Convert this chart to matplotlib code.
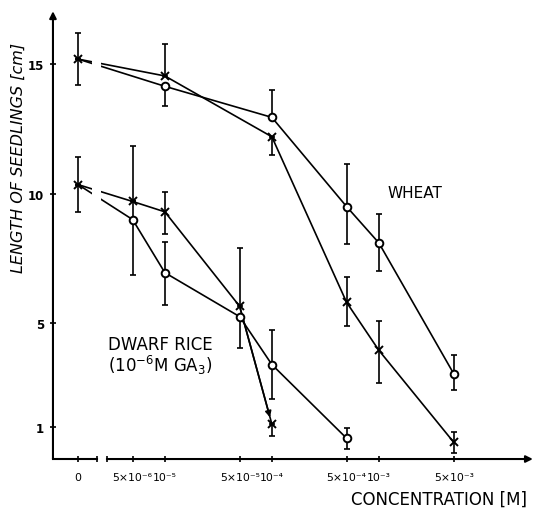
import matplotlib
matplotlib.use("Agg")
import matplotlib.pyplot as plt
import matplotlib.transforms as mtransforms
from matplotlib.ticker import FixedLocator, NullFormatter

# control (no GA inhibitor) is drawn at a stand-in position on the log axis
CTRL_X = 1.55e-6
BREAK_LO, BREAK_HI = 2.31e-6, 2.87e-6

# wheat, crosses
wheat_x_conc = [CTRL_X, 1e-5, 1e-4, 5e-4, 1e-3, 5e-3]
wheat_x_val = [15.2, 14.55, 12.2, 5.8, 3.95, 0.4]
wheat_x_hi = [16.2, 15.8, 12.2, 6.8, 5.1, 0.8]
wheat_x_lo = [14.2, 14.55, 11.5, 4.9, 2.7, 0.0]

# wheat, circles
wheat_o_conc = [CTRL_X, 1e-5, 1e-4, 5e-4, 1e-3, 5e-3]
wheat_o_val = [15.2, 14.15, 12.95, 9.5, 8.1, 3.05]
wheat_o_hi = [15.2, 14.15, 14.0, 11.15, 9.2, 3.75]
wheat_o_lo = [15.2, 13.4, 12.95, 8.05, 7.0, 2.4]

# dwarf rice, crosses
rice_x_conc = [CTRL_X, 5e-6, 1e-5, 5e-5, 1e-4]
rice_x_val = [10.35, 9.7, 9.3, 5.65, 1.1]
rice_x_hi = [11.4, 11.85, 10.05, 7.9, 1.1]
rice_x_lo = [9.3, 9.7, 8.45, 5.65, 0.65]

# dwarf rice, circles
rice_o_conc = [CTRL_X, 5e-6, 1e-5, 5e-5, 1e-4, 5e-4]
rice_o_val = [10.35, 9.0, 6.95, 5.25, 3.4, 0.55]
rice_o_hi = [10.35, 9.7, 8.15, 5.25, 4.75, 0.95]
rice_o_lo = [10.35, 6.85, 5.7, 4.05, 2.05, 0.15]

x_ticks = [CTRL_X, 5e-6, 1e-5, 5e-5, 1e-4, 5e-4, 1e-3, 5e-3]
x_labels = ["0", "5×10⁻⁶", "10⁻⁵", "5×10⁻⁵", "10⁻⁴", "5×10⁻⁴", "10⁻³", "5×10⁻³"]
y_ticks = [1, 5, 10, 15]

LW = 1.2

fig = plt.figure(figsize=(5.35, 5.1), dpi=100)
ax = fig.add_axes([0.099, 0.098, 0.897, 0.878])
ax.set_xscale("log")
ax.set_xlim(9e-7, 0.0275)
ax.set_ylim(-0.25, 17.05)


def draw(conc, val, lo, hi, marker, skip_first):
    yerr = [[v - l for v, l in zip(val, lo)], [h - v for v, h in zip(val, hi)]]
    ax.errorbar(conc, val, yerr=yerr, fmt="none", ecolor="black",
                elinewidth=LW, capsize=2.5, capthick=LW, zorder=2)
    ax.plot(conc, val, color="black", lw=LW, zorder=2)
    start = 1 if skip_first else 0
    ax.plot(conc[start:], val[start:], ls="none", marker=marker,
            ms=5.5 if marker == "o" else 6,
            mfc="white", mec="black", mew=1.4, zorder=4)


draw(wheat_x_conc, wheat_x_val, wheat_x_lo, wheat_x_hi, "x", False)
draw(wheat_o_conc, wheat_o_val, wheat_o_lo, wheat_o_hi, "o", True)
draw(rice_x_conc, rice_x_val, rice_x_lo, rice_x_hi, "x", False)
draw(rice_o_conc, rice_o_val, rice_o_lo, rice_o_hi, "o", True)

# arrow head on the last dwarf rice cross segment
ax.annotate("", xy=(rice_x_conc[-1], rice_x_val[-1]),
            xytext=(rice_x_conc[-2], rice_x_val[-2]),
            arrowprops=dict(arrowstyle="-|>", lw=LW, color="black",
                            shrinkA=0, shrinkB=5, mutation_scale=9), zorder=3)

# break between control and the concentration series
ax.axvspan(2.1e-6, 2.55e-6, ymin=0.03, ymax=1, color="white", lw=0, zorder=3)

for s in ax.spines.values():
    s.set_visible(False)

# hand-drawn style axes with arrows
blend = mtransforms.blended_transform_factory(ax.transData, ax.transAxes)
ax.annotate("", xy=(0, 1), xytext=(0, 0), xycoords="axes fraction",
            arrowprops=dict(arrowstyle="-|>", lw=1.5, color="black",
                            shrinkA=0, shrinkB=0, mutation_scale=10))
ax.plot([9e-7, BREAK_LO], [0, 0], color="black", lw=1.5, transform=blend,
        clip_on=False)
ax.annotate("", xy=(0.0275, 0), xytext=(BREAK_HI, 0), xycoords=blend,
            arrowprops=dict(arrowstyle="-|>", lw=1.5, color="black",
                            shrinkA=0, shrinkB=0, mutation_scale=10))

ax.set_xticks(x_ticks)
ax.set_xticklabels(x_labels)
ax.xaxis.set_minor_locator(FixedLocator([BREAK_LO, BREAK_HI]))
ax.xaxis.set_minor_formatter(NullFormatter())
ax.tick_params(axis="x", which="both", direction="inout", length=5, width=1.2,
               pad=7, labelsize=7.8)
ax.set_yticks(y_ticks)
ax.set_yticklabels(["1", "5", "10", "15"], fontweight="bold")
ax.tick_params(axis="y", direction="inout", length=5, width=1.2, pad=4,
               labelsize=8.5)

ax.text(1.2e-3, 10.05, "WHEAT", fontsize=11, va="center", ha="left")
ax.text(2.95e-6, 3.75, "DWARF RICE\n(10$^{-6}$M GA$_3$)", fontsize=12,
        va="center", ha="left", linespacing=1.0)

fig.text(0.985, 0.02, "CONCENTRATION [M]", fontsize=12, ha="right", va="center")
fig.text(0.035, 0.69, "LENGTH OF SEEDLINGS [cm]", fontsize=11.5, style="italic",
         rotation=90, ha="center", va="center")

fig.savefig("out.png", dpi=100)
